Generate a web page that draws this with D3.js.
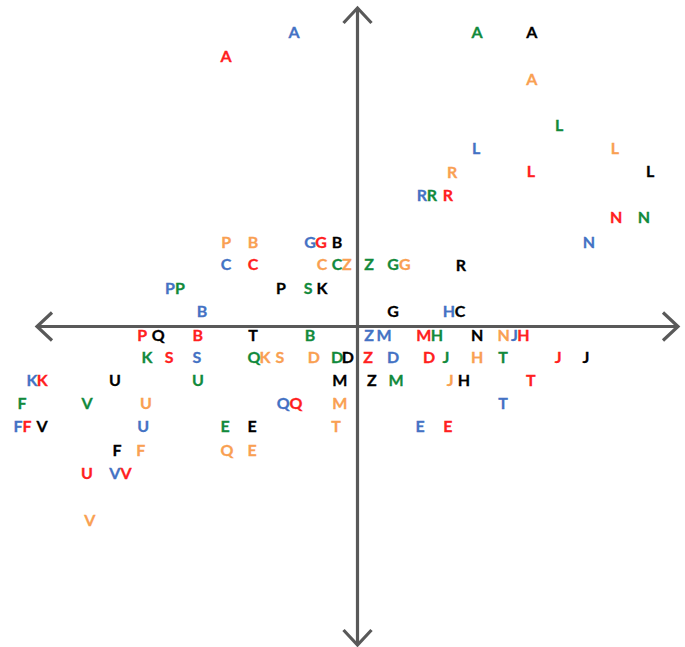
<!DOCTYPE html>
<html>
<head>
<meta charset="utf-8">
<script src="https://cdn.jsdelivr.net/npm/d3@7"></script>
<style>
  html, body { margin: 0; padding: 0; background: #ffffff; }
  svg { display: block; }
</style>
</head>
<body>
<svg id="chart" width="685" height="647"></svg>
<script>
// ---- data ----
const letters = ["A","B","C","D","E","F","G","H","J","K","L","M","N","P","Q","R","S","T","U","V","Z"];

const blueX   = [-1.98,-4.85,-4.10, 1.11, 1.95,-10.59,-1.48, 2.85, 4.90,-10.16, 3.70, 0.83, 7.22,-5.85,-2.32, 2.01,-5.01, 4.54,-6.69,-7.57, 0.36];
const blueY   = [ 9.25, 0.49, 1.96,-0.96,-3.12, -3.12, 2.65, 0.49,-0.27, -1.69, 5.60,-0.27, 2.65, 1.21,-2.40, 4.13,-0.96,-2.40,-3.12,-4.60,-0.27];

const redX    = [-4.10,-4.98,-3.26, 2.23, 2.82,-10.31,-1.14, 5.18, 6.26,-9.84, 5.41, 2.07, 8.07,-6.72,-1.92, 2.82,-5.88, 5.41,-8.44,-7.22, 0.33];
const redY    = [ 8.49,-0.27, 1.96,-0.96,-3.12, -3.12, 2.65,-0.27,-0.96,-1.69, 4.88,-0.27, 3.44,-0.27,-2.40, 4.13,-0.96,-1.69,-4.60,-4.60,-0.96];

const greenX  = [ 3.73,-1.48,-0.64,-0.64,-4.13,-10.47, 1.11, 2.48, 2.76,-6.57, 6.29, 1.20, 8.94,-5.54,-3.23, 2.32,-1.54, 4.54,-4.98,-8.44, 0.36];
const greenY  = [ 9.25,-0.27, 1.96,-0.96,-3.12, -2.40, 1.96,-0.27,-0.96,-0.96, 6.33,-1.69, 3.44, 1.21,-0.96, 4.13, 1.21,-0.96,-1.69,-2.40, 1.96];

const orangeX = [ 5.44,-3.26,-1.11,-1.36,-3.29,-6.76, 1.48, 3.73, 2.89,-2.89, 8.03,-0.55, 4.56,-4.10,-4.07, 2.95,-2.42,-0.67,-6.60,-8.35,-0.33];
const orangeY = [ 7.77, 2.65, 1.96,-0.96,-3.88,-3.88, 1.96,-0.96,-1.69,-0.96, 5.60,-2.40,-0.27, 2.65,-3.88, 4.85,-0.96,-3.12,-2.40,-6.08, 1.96];

const blackX  = [ 5.44,-0.64, 3.20,-0.30,-3.29,-7.50, 1.11, 3.32, 7.13,-1.11, 9.13,-0.55, 3.73,-2.39,-6.22, 3.23, null,-3.26,-7.57,-9.84, 0.45];
const blackY  = [ 9.25, 2.65, 0.49,-0.96,-3.12,-3.88, 0.49,-1.69,-0.96, 1.21, 4.88,-1.69,-0.27, 1.21,-0.27, 1.93, null,-0.27,-1.69,-3.12,-1.69];

const seriesNames  = ["blue","red","green","orange","black"];
const seriesColors = ["#4472C4","#FF2020","#128A3C","#F9A052","#000000"];
const axisMin = -10, axisMax = 10;

// ---- build ----
const seriesData = [
  [blueX, blueY], [redX, redY], [greenX, greenY], [orangeX, orangeY], [blackX, blackY]
];
const points = [];
seriesData.forEach((s, si) => {
  letters.forEach((l, i) => {
    if (s[0][i] != null && s[1][i] != null) {
      points.push({ label: l, x: s[0][i], y: s[1][i], series: seriesNames[si] });
    }
  });
});

const svg = d3.select("#chart");
const x = d3.scaleLinear().domain([axisMin, axisMax]).range([37, 678]);
const y = d3.scaleLinear().domain([axisMin, axisMax]).range([645, 8]);
const color = d3.scaleOrdinal().domain(seriesNames).range(seriesColors);

// axes with open arrowheads
const axisColor = "#595959";
const axisG = svg.append("g")
  .attr("stroke", axisColor)
  .attr("stroke-width", 3.2)
  .attr("fill", "none")
  .attr("stroke-linecap", "butt");

axisG.append("line")
  .attr("x1", x(axisMin) + 1).attr("x2", x(axisMax) - 1)
  .attr("y1", y(0)).attr("y2", y(0));
axisG.append("line")
  .attr("x1", x(0)).attr("x2", x(0))
  .attr("y1", y(axisMax) + 1).attr("y2", y(axisMin) - 1);

const w = 15, h = 14;
const line = d3.line();
axisG.append("path").attr("stroke-linejoin", "miter")
  .attr("d", line([[x(axisMax) - w, y(0) - h], [x(axisMax), y(0)], [x(axisMax) - w, y(0) + h]]));
axisG.append("path").attr("stroke-linejoin", "miter")
  .attr("d", line([[x(axisMin) + w, y(0) - h], [x(axisMin), y(0)], [x(axisMin) + w, y(0) + h]]));
axisG.append("path").attr("stroke-linejoin", "miter")
  .attr("d", line([[x(0) - h, y(axisMax) + w], [x(0), y(axisMax)], [x(0) + h, y(axisMax) + w]]));
axisG.append("path").attr("stroke-linejoin", "miter")
  .attr("d", line([[x(0) - h, y(axisMin) - w], [x(0), y(axisMin)], [x(0) + h, y(axisMin) - w]]));

// labels
svg.append("g")
  .selectAll("text")
  .data(points)
  .join("text")
  .attr("x", d => x(d.x))
  .attr("y", d => y(d.y))
  .attr("dy", "0.36em")
  .attr("text-anchor", "middle")
  .attr("font-family", "Lato, 'Open Sans', sans-serif")
  .attr("font-weight", 700)
  .attr("font-size", 16)
  .attr("fill", d => color(d.series))
  .attr("stroke", d => color(d.series))
  .attr("stroke-width", 0.3)
  .text(d => d.label);
</script>
</body>
</html>
